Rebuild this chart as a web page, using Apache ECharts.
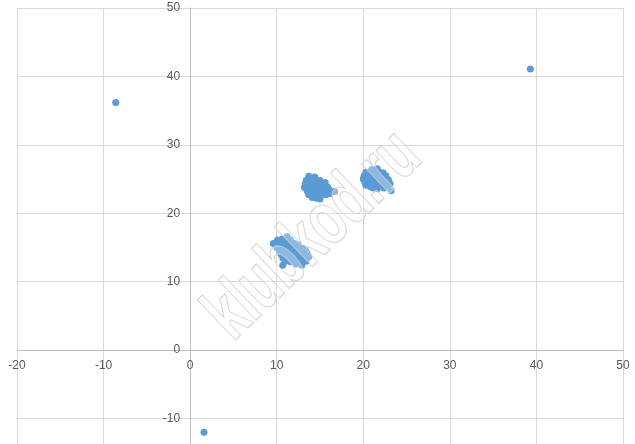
<!DOCTYPE html>
<html>
<head>
<meta charset="utf-8">
<script src="https://cdn.jsdelivr.net/npm/echarts@6/dist/echarts.min.js"></script>
<style>html,body{margin:0;padding:0;background:#fff;overflow:hidden}#c{width:635px;height:487px}</style>
</head>
<body>
<div id="c"></div>
<script>
var outliers = [[-8.6,36.2],[39.3,41.1],[1.6,-12.0]];
var cluster1 = [[11.2,16.6],[10.1,16.1],[10.6,16.2],[11.1,16.0],[11.6,16.1],
[9.6,15.6],[10.2,15.5],[10.8,15.7],[11.4,15.5],[12.0,15.6],[12.5,15.4],
[10.0,15.0],[10.6,15.1],[11.2,14.9],[11.8,15.0],[12.4,15.1],[13.0,14.9],
[10.3,14.5],[10.9,14.4],[11.5,14.6],[12.1,14.4],[12.7,14.5],[13.3,14.6],
[10.5,14.0],[11.1,13.9],[11.7,14.1],[12.3,13.9],[12.9,14.0],[13.5,14.1],
[10.7,13.5],[11.3,13.4],[11.9,13.6],[12.5,13.5],[13.1,13.4],[13.7,13.6],
[11.0,13.0],[11.6,12.9],[12.2,13.1],[12.8,12.9],[13.4,13.0],
[10.7,12.4],[12.2,12.6],[12.9,12.4]];
var cluster2 = [[13.7,25.4],[14.4,25.3],
[13.4,24.8],[13.9,24.9],[14.5,24.7],[15.0,24.8],
[13.3,24.3],[13.8,24.2],[14.3,24.4],[14.8,24.3],[15.3,24.2],[15.6,24.5],
[13.2,23.8],[13.8,23.7],[14.3,23.9],[14.8,23.8],[15.3,23.7],[15.9,23.8],
[13.5,23.3],[14.0,23.2],[14.5,23.4],[15.0,23.3],[15.5,23.2],[16.1,23.4],[16.7,23.2],
[13.7,22.7],[14.2,22.7],[14.7,22.9],[15.2,22.8],[15.7,22.7],[16.2,22.9],
[14.1,22.3],[14.6,22.2],[15.0,22.1]];
var cluster3 = [[21.0,26.4],[21.6,26.5],
[20.3,26.0],[20.8,26.1],[21.3,25.9],[21.9,26.0],[22.3,25.9],
[20.1,25.5],[20.6,25.4],[21.1,25.6],[21.6,25.5],[22.1,25.4],[22.6,25.5],
[20.0,25.0],[20.5,24.9],[21.0,25.1],[21.5,25.0],[22.0,24.9],[22.5,25.1],[22.9,24.9],
[20.2,24.5],[20.7,24.4],[21.2,24.6],[21.7,24.5],[22.2,24.4],[22.7,24.6],[23.1,24.3],
[20.3,24.1],[20.8,23.9],[21.3,24.1],[21.8,24.0],[22.3,23.9],[22.8,24.0],
[21.1,23.7],[21.6,23.6],[22.4,23.7],
[23.2,23.3]];
var xTicks = {min:-20, max:50, interval:10};
var yTicks = {min:-20, max:50, interval:10};
var watermark = 'klubkod.ru';

var allPoints = outliers.concat(cluster1, cluster2, cluster3);
var W = 635, H = 487, gl = 17, gr = 12, gt = 8, gb = 0;
var gw = W - gl - gr, gh = H - gt - gb;
var yAxisOffset = -gw * (0 - xTicks.min) / (xTicks.max - xTicks.min);
var xAxisOffset = -gh * (0 - yTicks.min) / (yTicks.max - yTicks.min);
var chart = echarts.init(document.getElementById('c'), null, {renderer:'canvas'});
var labelStyle = {color:'#595959', fontSize:12, fontFamily:'Liberation Sans'};
chart.setOption({
  animation:false,
  grid:{left:gl, right:gr, top:gt, bottom:gb, containLabel:false, outerBoundsMode:'none'},
  xAxis:{type:'value', min:xTicks.min, max:xTicks.max, interval:xTicks.interval,
    position:'bottom', offset:xAxisOffset,
    axisLine:{show:true, onZero:false, lineStyle:{color:'#bfbfbf', width:1}},
    axisTick:{show:false},
    axisLabel:Object.assign({margin:10, showMinLabel:true, showMaxLabel:true}, labelStyle),
    splitLine:{show:true, lineStyle:{color:'#d9d9d9', width:1}}},
  yAxis:{type:'value', min:yTicks.min, max:yTicks.max, interval:yTicks.interval,
    position:'left', offset:yAxisOffset,
    axisLine:{show:true, onZero:false, lineStyle:{color:'#bfbfbf', width:1}},
    axisTick:{show:false},
    axisLabel:Object.assign({margin:10, showMinLabel:true, showMaxLabel:true}, labelStyle),
    splitLine:{show:true, lineStyle:{color:'#d9d9d9', width:1}}},
  series:[{type:'scatter', data:allPoints, symbol:'circle', symbolSize:7,
    itemStyle:{color:'#5b9bd5', opacity:1}}],
  graphic:[{type:'text', x:314, y:236, rotation:0.76, scaleX:0.68, z:100, silent:true,
    style:{text:watermark, font:'bold 76px "Liberation Sans"', align:'center', verticalAlign:'middle',
      fill:'rgba(255,255,255,0.3)', stroke:'rgba(200,200,200,0.85)', lineWidth:1.3}}]
});
</script>
</body>
</html>
